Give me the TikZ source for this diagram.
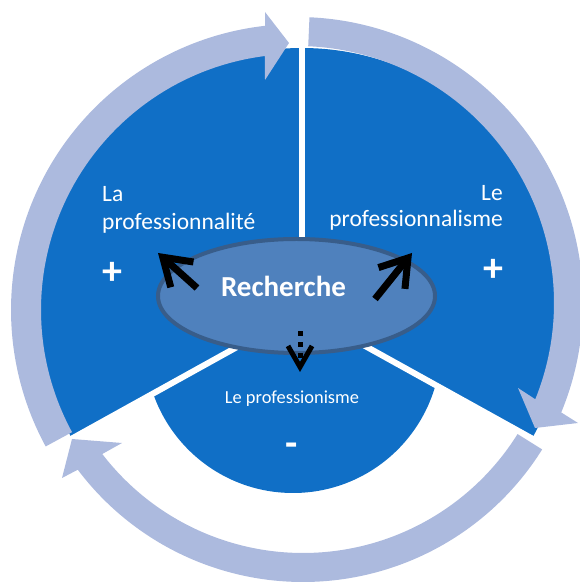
\documentclass[tikz,border=0pt]{standalone}
\usepackage{fontspec}
\setmainfont{Carlito}
\usetikzlibrary{arrows.meta,calc}
\definecolor{secblue}{RGB}{16,111,198}
\definecolor{ringblue}{RGB}{172,186,222}
\definecolor{ellfill}{RGB}{79,129,189}
\definecolor{elldraw}{RGB}{56,93,138}
\begin{document}
\begin{tikzpicture}[x=1pt,y=1pt,
  sector/.style={fill=secblue},
  ringarrow/.style={fill=ringblue},
  gapline/.style={draw=white,line width=6pt},
  lbl/.style={text=white,inner sep=0pt,font=\fontsize{23.5}{28}\selectfont},
  lblr/.style={text=white,inner sep=0pt,font=\fontsize{23.5}{26}\selectfont},
  sign/.style={text=white,inner sep=0pt,font=\bfseries\fontsize{40}{40}\selectfont},
  bigarrow/.style={draw=black,line width=7pt,-{Straight Barb[length=26pt,width=34pt]}},
  smallarrow/.style={draw=black,line width=5pt,dash pattern=on 5pt off 6pt,-{Straight Barb[length=21pt,width=24pt]}}
]
\useasboundingbox (0,0) rectangle (579,586);
\coordinate (B) at (302,275);
\coordinate (D) at (293,241);
\coordinate (O1) at (297,276);
\coordinate (O2) at (297,283);
\coordinate (O3) at (303,286);

% blue sectors
\fill[sector] (B) -- ++(90:263) arc[start angle=90,end angle=209,radius=263] -- cycle;
\fill[sector] (B) -- ++(-29:263) arc[start angle=-29,end angle=90,radius=263] -- cycle;
\begin{scope}
  \clip (B) -- +(209:400) -- +(270:400) -- +(331:400) -- cycle;
  \fill[sector] (D) circle[radius=148];
\end{scope}
\draw[gapline] (B) -- +(90:270);
\draw[gapline] (B) -- +(209:270);
\draw[gapline] (B) -- +(331:270);

% central ellipse
\draw[draw=elldraw,fill=ellfill,line width=4pt] (296.5,290) ellipse[x radius=138.5,y radius=57];
\node[text=white,inner sep=0pt,font=\bfseries\fontsize{29}{29}\selectfont,anchor=base] (rech) at (283.5,289) {Recherche};

% arrows in the ellipse
\coordinate (a1s) at (197,298);
\coordinate (a1e) at (158,333);
\coordinate (a2s) at (375,287);
\coordinate (a2e) at (412,333);
\coordinate (a3s) at (300,254.5);
\coordinate (a3e) at (300,214);
\draw[bigarrow] (a1s) -- (a1e);
\draw[bigarrow] (a2s) -- (a2e);
\draw[smallarrow] (a3s) -- (a3e);

% labels
\node[lbl,anchor=base west,align=left] (la) at (102,356) {La\\professionnalité};
\node[lblr,anchor=base east,align=right] (le) at (503,359) {Le\\professionnalisme};
\node[text=white,inner sep=0pt,font=\fontsize{18.4}{20}\selectfont,anchor=base] (lp) at (292,182) {Le professionisme};
\node[sign] (plus1) at (112,313) {+};
\node[sign] (plus2) at (493,316) {+};
\node[sign] (minus) at (292,136) {-};

% ring arrows
\fill[ringarrow] ($(O1)+(208.5:286)$) arc[start angle=208.5,end angle=96.4,radius=286]
  -- (265,574) -- (289,543) -- (265,506)
  -- ($(O1)+(97.2:256)$) arc[start angle=97.2,end angle=208.5,radius=256] -- cycle;
\fill[ringarrow] ($(O2)+(87.5:286)$) arc[start angle=87.5,end angle=-22.5,radius=286]
  -- (578,163) -- (535,158) -- (518,198)
  -- ($(O2)+(-22:257)$) arc[start angle=-22,end angle=87.5,radius=257] -- cycle;
\fill[ringarrow] ($(O3)+(-32:282)$) arc[start angle=-32,end angle=-143,radius=282]
  -- (62,108) -- (72,147) -- (122,143)
  -- ($(O3)+(-142.5:253)$) arc[start angle=-142.5,end angle=-32,radius=253] -- cycle;
\end{tikzpicture}
\end{document}
